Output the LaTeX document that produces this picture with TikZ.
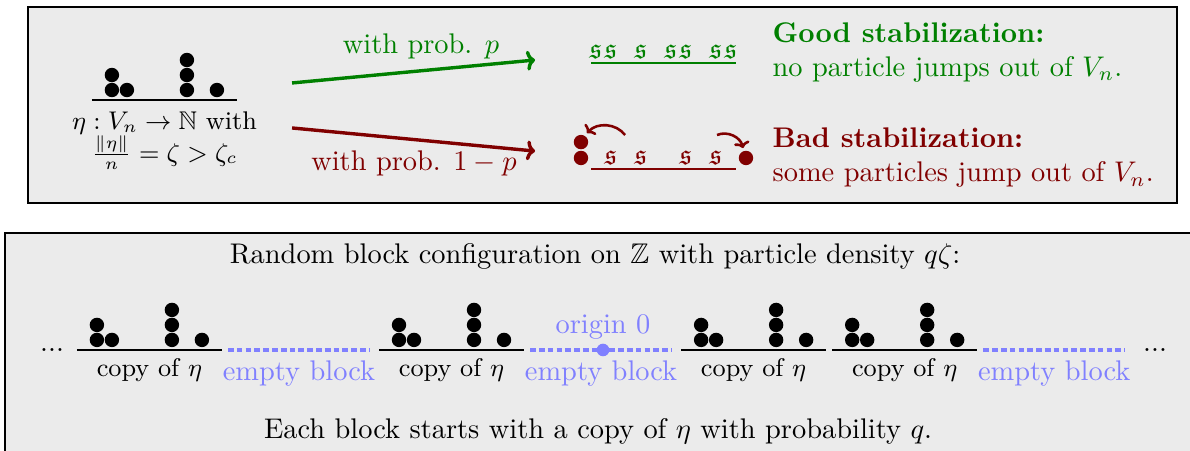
\documentclass[tikz,border=0pt]{standalone}
\usepackage{amsmath,amssymb,amsfonts}
\usepackage{xcolor}
\usetikzlibrary{arrows.meta,positioning}

\definecolor{goodgreen}{RGB}{0,128,0}
\definecolor{badred}{RGB}{128,0,0}
\definecolor{emptyblue}{RGB}{128,128,255}
\definecolor{boxgray}{RGB}{235,235,235}

\tikzset{pics/etaconf/.style={code={
  \draw[line width=1pt] (0,0) -- (9.67,0);
  \foreach \i/\n in {1/2,2/1,6/3,8/1}
    \foreach \k in {1,...,\n} \fill (\i+0.33,\k-0.33) circle (0.48);
}}}

\begin{document}
\begin{tikzpicture}[x=0.1856cm, y=0.1856cm,
  panel/.style={draw, line width=0.8pt, fill=boxgray},
  sleep/.style={inner sep=0, font=\normalsize},
  copylbl/.style={font=\small, inner sep=0},
  emptylbl/.style={text=emptyblue, inner sep=0},
  emptyline/.style={emptyblue, line width=1.3pt, dash pattern=on 2pt off 1.1pt},
  prob/.style={-{To[length=3pt,width=7pt]}, line width=1.2pt},
  jump/.style={-{To[length=2.2pt,width=5.5pt]}, badred, line width=0.9pt}]
\useasboundingbox (0,0) rectangle (79.33,-30);
\draw[panel] (1.87,-0.47) rectangle (78.47,-13.53);
\draw[panel] (0.33,-15.53) rectangle (82,-32);

\pic (e) at (6.13,-6.67) {etaconf};
\node[anchor=north, align=center, font=\small] (etadesc) at (10.97,-6.8)
  {$\eta: V_n \to \mathbb{N}$ with\\ $\frac{\|\eta\|}{n} = \zeta > \zeta_c$};

\coordinate (g1) at (19.47,-5.53);
\coordinate (g2) at (35.67,-4);
\coordinate (b1) at (19.47,-8.53);
\coordinate (b2) at (35.67,-10.07);
\draw[prob, goodgreen] (g1) -- (g2);
\draw[prob, badred] (b1) -- (b2);
\node[text=goodgreen] (gp) at (28.07,-3.07) {with prob. $p$};
\node[text=badred] (bp) at (27.6,-10.87) {with prob. $1-p$};

\draw[goodgreen, line width=1pt] (39.4,-4.2) -- ++(9.67,0);
\foreach \i in {0,1,3,5,6,8,9}
  \node[sleep, text=goodgreen] (gs\i) at (39.73+\i,-3.47) {$\mathfrak{s}$};
\draw[badred, line width=1pt] (39.4,-11.27) -- ++(9.67,0);
\foreach \i in {1,3,6,8}
  \node[sleep, text=badred] (bs\i) at (39.73+\i,-10.53) {$\mathfrak{s}$};
\fill[badred] (38.73,-10.53) circle (0.48) (38.73,-9.47) circle (0.48)
  (49.73,-10.53) circle (0.48);
\coordinate (jl1) at (41.67,-9);
\coordinate (jl2) at (39.13,-8.87);
\coordinate (jr1) at (47.8,-9);
\coordinate (jr2) at (49.53,-9.87);
\draw[jump] (jl1) to[bend right=50] (jl2);
\draw[jump] (jr1) to[bend left=50] (jr2);

\node[anchor=west, align=left, inner sep=0, text=goodgreen] (good) at (51.47,-3.5)
  {\textbf{Good stabilization:}\\ no particle jumps out of $V_n$.};
\node[anchor=west, align=left, inner sep=0, text=badred] (bad) at (51.47,-10.53)
  {\textbf{Bad stabilization:}\\ some particles jump out of $V_n$.};

\node (title) at (39.67,-17.07) {Random block configuration on $\mathbb{Z}$ with particle density $q\zeta$:};
\node (note) at (39.87,-28.73) {Each block starts with a copy of $\eta$ with probability $q$.};

\node[anchor=base] (ldots) at (3.47,-23.43) {...};
\node[anchor=base] (rdots) at (77,-23.43) {...};
\foreach \k/\c in {0/1,1/0,2/1,3/0,4/1,5/1,6/0}{
  \pgfmathsetmacro\bx{5.13+10.07*\k}
  \ifnum\c=1
    \pic (c\k) at (\bx,-23.33) {etaconf};
    \node[copylbl] (lbl\k) at (\bx+4.83,-24.67) {copy of $\eta$};
  \else
    \draw[emptyline] (\bx,-23.33) -- ++(9.47,0);
    \node[emptylbl] (lbl\k) at (\bx+4.73,-24.9) {empty block};
  \fi
}
\fill[emptyblue] (40.2,-23.33) circle (0.42);
\node[emptylbl] (origin) at (40.2,-21.8) {origin 0};
\end{tikzpicture}
\end{document}
